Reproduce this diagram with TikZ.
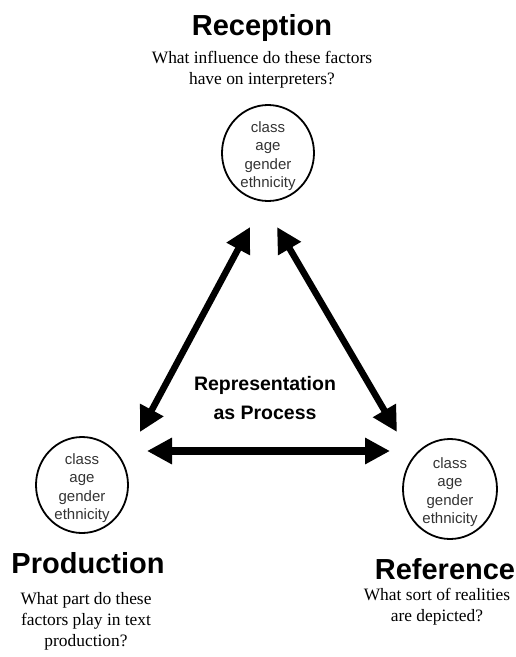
\documentclass[tikz,border=0pt]{standalone}
\usepackage{fontspec}
\setmainfont{Liberation Serif}
\setsansfont{Liberation Sans}
\usetikzlibrary{arrows.meta,shapes.geometric}
\begin{document}
\begin{tikzpicture}[x=1pt,y=-1pt,
  factor/.style={draw,line width=1.8pt,ellipse,minimum width=92pt,minimum height=96pt,inner sep=0pt},
  factortext/.style={font=\sffamily\fontsize{15}{18.5}\selectfont,text=black!80,align=center},
  title/.style={font=\sffamily\bfseries\fontsize{29}{32}\selectfont},
  question/.style={font=\fontsize{17.4}{21}\selectfont,align=center},
  dblarrow/.style={line width=6.5pt,{Triangle[length=25pt,width=25pt]}-{Triangle[length=25pt,width=25pt]}},
]
\useasboundingbox (0,0) rectangle (516,657);
% circles
\node[factor] (rec) at (268,153) {};
\node[factor] (prod) at (82,485) {};
\node[factor,minimum width=94pt,minimum height=100pt] (ref) at (450,489) {};
\node[factortext] (rect) at (268,156) {class\\age\\gender\\ethnicity};
\node[factortext] (prodt) at (82,488) {class\\age\\gender\\ethnicity};
\node[factortext] (reft) at (450,492) {class\\age\\gender\\ethnicity};
% titles
\node[title] (rectitle) at (262,28) {Reception};
\node[question] (recq) at (262,70) {What influence do these factors\\have on interpreters?};
\node[title] (prodtitle) at (88,563) {Production};
\node[question] (prodq) at (86,621) {What part do these\\factors play in text\\production?};
\node[title] (reftitle) at (445,569) {Reference};
\node[question] (refq) at (437,607) {What sort of realities\\are depicted?};
% centre label
\node[font=\sffamily\bfseries\fontsize{19.5}{29}\selectfont,align=center] (mid) at (265,398) {Representation\\as Process};
% arrow ends
\coordinate (a1) at (250,227);
\coordinate (a2) at (140,432);
\coordinate (b1) at (277,227);
\coordinate (b2) at (397,432);
\coordinate (c1) at (147,451);
\coordinate (c2) at (390,451);
\draw[dblarrow] (a1) -- (a2);
\draw[dblarrow] (b1) -- (b2);
\draw[dblarrow,line width=8pt] (c1) -- (c2);
\end{tikzpicture}
\end{document}
